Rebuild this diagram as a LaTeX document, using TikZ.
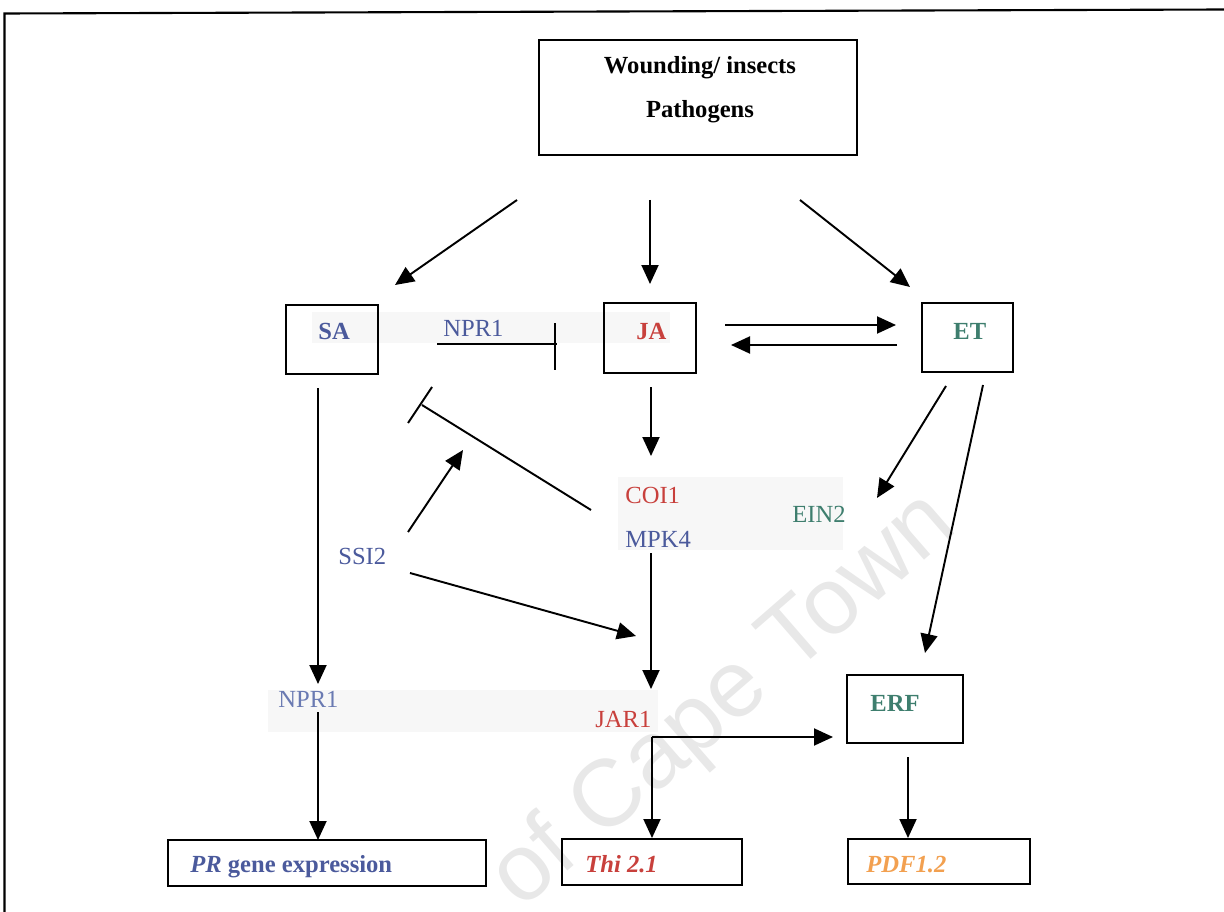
\documentclass[tikz,border=0pt]{standalone}
\usepackage{fontspec}
\setmainfont{Liberation Serif}
\newfontfamily\wmfont{Liberation Sans}
\usetikzlibrary{arrows.meta}
\definecolor{cblue}{HTML}{4B5A9C}
\definecolor{lblue}{HTML}{6A7AB2}
\definecolor{cred}{HTML}{C8403C}
\definecolor{cteal}{HTML}{3E7E6E}
\definecolor{corange}{HTML}{F2A050}
\newcommand{\fs}{\fontsize{14pt}{17pt}\selectfont}
\begin{document}
\begin{tikzpicture}[x=0.02cm,y=-0.02cm,
  box/.style={draw, line width=1.1pt, inner sep=0pt},
  lbl/.style={inner sep=0pt, anchor=base west, font=\fs},
  blbl/.style={inner sep=0pt, anchor=base west, font=\fs\bfseries},
  arr/.style={-{Triangle[length=0.38cm,width=0.34cm]}, line width=1.1pt},
  inh/.style={line width=1.1pt},
  band/.style={fill=black!3, draw=none}]
\useasboundingbox (0,0) rectangle (1224,912);
% watermark
\node[rotate=41, anchor=base east, inner sep=0pt, text=black!9, font=\wmfont\fontsize{54pt}{60pt}\selectfont] (wm) at (960,530) {of Cape Town};
% outer frame
\draw[line width=1.2pt] (4.5,912) -- (4.5,13.5) -- (1224,9.5);
% text bands
\fill[band] (312,312) rectangle (670,343);
\fill[band] (618,477) rectangle (843,550);
\fill[band] (268,690) rectangle (658,732);
% boxes
\node[box, minimum width=6.36cm, minimum height=2.30cm] (src) at (698,97.5) {};
\node[box, minimum width=1.84cm, minimum height=1.38cm] (sa) at (332,339.5) {};
\node[box, minimum width=1.84cm, minimum height=1.40cm] (ja) at (650,338) {};
\node[box, minimum width=1.82cm, minimum height=1.38cm] (et) at (967.5,337.5) {};
\node[box, minimum width=2.32cm, minimum height=1.36cm] (erf) at (905,709) {};
\node[box, minimum width=6.36cm, minimum height=0.92cm] (pr) at (327,863) {};
\node[box, minimum width=3.60cm, minimum height=0.92cm] (thi) at (652,862) {};
\node[box, minimum width=3.64cm, minimum height=0.90cm] (pdf) at (939,861.5) {};
% texts
\node[blbl, anchor=base] (t1) at (700,74) {Wounding/ insects};
\node[blbl, anchor=base] (t2) at (700,118) {Pathogens};
\node[blbl, text=cblue] (tsa) at (318,339) {SA};
\node[blbl, text=cred] (tja) at (636,339) {JA};
\node[blbl, text=cteal] (tet) at (953,339) {ET};
\node[lbl, text=cblue] (npr1a) at (443,337) {NPR1};
\node[lbl, text=cred] (coi1) at (625,503) {COI1};
\node[lbl, text=cblue] (mpk4) at (625,547) {MPK4};
\node[lbl, text=cteal] (ein2) at (792,522) {EIN2};
\node[lbl, text=cblue] (ssi2) at (338,564) {SSI2};
\node[lbl, text=lblue] (npr1b) at (278,707) {NPR1};
\node[lbl, text=cred] (jar1) at (595,727) {JAR1};
\node[blbl, text=cteal] (terf) at (870,711) {ERF};
\node[blbl, text=cblue] (tpr) at (190,872) {\textit{PR} gene expression};
\node[blbl, text=cred] (tthi) at (585,872) {\textit{Thi 2.1}};
\node[blbl, text=corange] (tpdf) at (866,872) {\textit{PDF1.2}};
% connector end points
\coordinate (c1a) at (517,200); \coordinate (c1b) at (395,285);
\coordinate (c2a) at (650,200); \coordinate (c2b) at (650,284);
\coordinate (c3a) at (800,200); \coordinate (c3b) at (910,287);
\coordinate (c4a) at (725,325); \coordinate (c4b) at (896,325);
\coordinate (c5a) at (897,345); \coordinate (c5b) at (731,345);
\coordinate (c6a) at (318,388); \coordinate (c6b) at (318,684);
\coordinate (c7a) at (318,712); \coordinate (c7b) at (318,840);
\coordinate (c8a) at (651,387); \coordinate (c8b) at (651,456);
\coordinate (c9a) at (651,553); \coordinate (c9b) at (651,689);
\coordinate (c10a) at (408,532); \coordinate (c10b) at (463,450);
\coordinate (c11a) at (410,573); \coordinate (c11b) at (636,636);
\coordinate (c12a) at (946,386); \coordinate (c12b) at (877,498);
\coordinate (c13a) at (983,385); \coordinate (c13b) at (925,653);
\coordinate (corner) at (652,737);
\coordinate (c14b) at (833,737); \coordinate (c14c) at (652,838);
\coordinate (c15a) at (908,757); \coordinate (c15b) at (908,838);
\coordinate (i1a) at (437,344); \coordinate (i1b) at (557,344);
\coordinate (i1t) at (555,323); \coordinate (i1u) at (555,370);
\coordinate (i2a) at (591,510); \coordinate (i2b) at (422,405);
\coordinate (i2t) at (432,387); \coordinate (i2u) at (408,423);
% arrows
\draw[arr] (c1a) -- (c1b);
\draw[arr] (c2a) -- (c2b);
\draw[arr] (c3a) -- (c3b);
\draw[arr] (c4a) -- (c4b);
\draw[arr] (c5a) -- (c5b);
\draw[arr] (c6a) -- (c6b);
\draw[arr] (c7a) -- (c7b);
\draw[arr] (c8a) -- (c8b);
\draw[arr] (c9a) -- (c9b);
\draw[arr] (c10a) -- (c10b);
\draw[arr] (c11a) -- (c11b);
\draw[arr] (c12a) -- (c12b);
\draw[arr] (c13a) -- (c13b);
\draw[arr] (corner) -- (c14b);
\draw[arr] (corner) -- (c14c);
\draw[arr] (c15a) -- (c15b);
% inhibitions
\draw[inh] (i1a) -- (i1b);
\draw[inh] (i1t) -- (i1u);
\draw[inh] (i2a) -- (i2b);
\draw[inh] (i2t) -- (i2u);
\end{tikzpicture}
\end{document}
